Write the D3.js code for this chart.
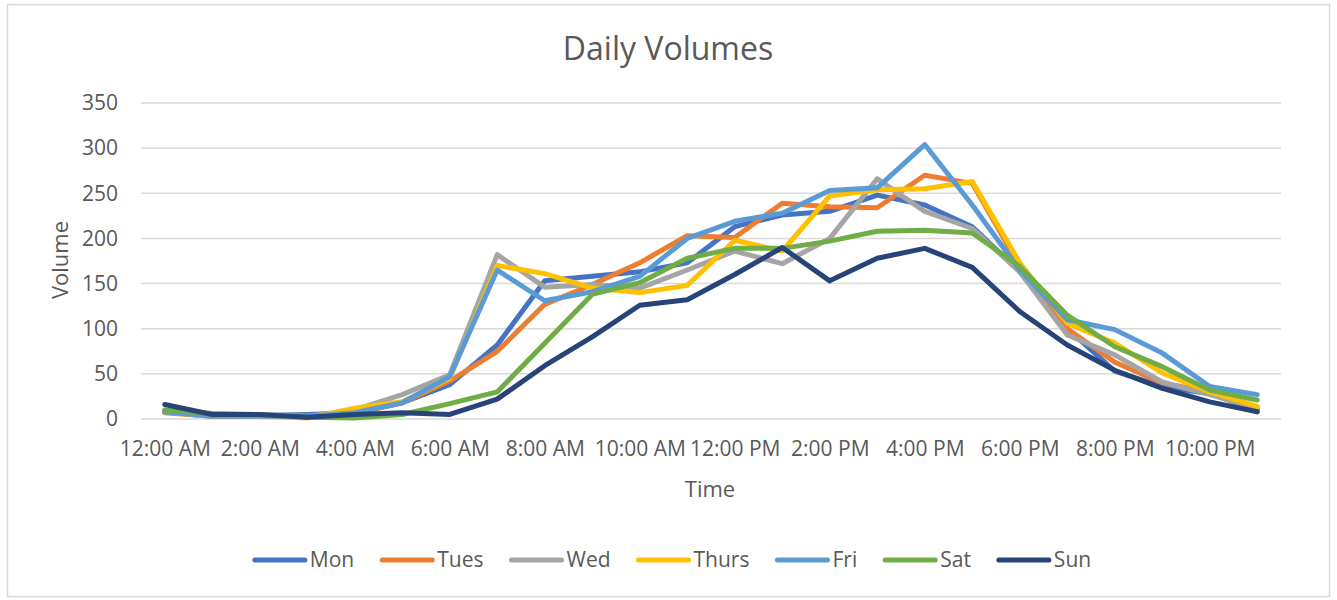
<!DOCTYPE html>
<html>
<head>
<meta charset="utf-8">
<script src="https://cdn.jsdelivr.net/npm/d3@7"></script>
<style>
  body { margin: 0; background: #fff; }
  text { font-family: "Open Sans", sans-serif; fill: #595959; }
</style>
</head>
<body>
<div id="chart"></div>
<script>
var hours = ["12:00 AM","1:00 AM","2:00 AM","3:00 AM","4:00 AM","5:00 AM","6:00 AM","7:00 AM",
             "8:00 AM","9:00 AM","10:00 AM","11:00 AM","12:00 PM","1:00 PM","2:00 PM","3:00 PM",
             "4:00 PM","5:00 PM","6:00 PM","7:00 PM","8:00 PM","9:00 PM","10:00 PM","11:00 PM"];

var days = ["Mon", "Tues", "Wed", "Thurs", "Fri", "Sat", "Sun"];

var mon   = [9, 3, 4, 5, 7, 18, 38, 82, 153, 158, 163, 173, 213, 226, 230, 248, 237, 213, 163, 100, 53, 36, 28, 10];
var tues  = [7, 3, 4, 3, 6, 18, 42, 75, 127, 149, 173, 203, 201, 239, 235, 234, 270, 261, 169, 100, 63, 40, 30, 8];
var wed   = [8, 3, 4, 3, 10, 27, 49, 182, 146, 149, 145, 165, 186, 172, 200, 266, 230, 211, 163, 93, 71, 41, 27, 12];
var thurs = [8, 3, 3, 1, 12, 19, 45, 170, 161, 145, 140, 148, 198, 186, 247, 254, 255, 263, 173, 106, 84, 51, 30, 14];
var fri   = [8, 3, 3, 3, 7, 18, 47, 165, 131, 141, 158, 200, 219, 228, 253, 256, 304, 237, 165, 110, 99, 73, 36, 27];
var sat   = [10, 6, 5, 2, 1, 5, 17, 30, 84, 138, 151, 178, 189, 189, 197, 208, 209, 206, 169, 115, 80, 58, 32, 21];
var sun   = [16, 5, 5, 2, 5, 7, 5, 22, 59, 91, 126, 132, 160, 190, 153, 178, 189, 168, 119, 82, 54, 34, 19, 8];

var yTicks = [0, 50, 100, 150, 200, 250, 300, 350];
var colors = ["#4472C4", "#ED7D31", "#A5A5A5", "#FFC000", "#5B9BD5", "#70AD47", "#264478"];

var series = [mon, tues, wed, thurs, fri, sat, sun].map(function(vals, i) {
  return { name: days[i], values: vals };
});

var width = 1337, height = 600;

var svg = d3.select("#chart").append("svg")
    .attr("width", width)
    .attr("height", height);

/* chart frame */
svg.append("rect")
    .attr("x", 7.5).attr("y", 4.5)
    .attr("width", 1322).attr("height", 592)
    .attr("fill", "#fff")
    .attr("stroke", "#d9d9d9")
    .attr("stroke-width", 1.5);

var x = d3.scalePoint().domain(hours).range([141, 1281]).padding(0.5);
var y = d3.scaleLinear().domain([0, 350]).range([419, 103]);

/* gridlines */
svg.append("g")
  .selectAll("line")
  .data(yTicks)
  .enter().append("line")
    .attr("x1", 141).attr("x2", 1281)
    .attr("y1", function(d) { return y(d); })
    .attr("y2", function(d) { return y(d); })
    .attr("stroke", "#d9d9d9")
    .attr("stroke-width", 1.5);

/* y axis labels */
var yAxis = d3.axisLeft(y).tickValues(yTicks).tickSize(0).tickPadding(0);
svg.append("g")
    .attr("transform", "translate(118,0)")
    .call(yAxis)
    .call(function(g) { g.select(".domain").remove(); })
    .selectAll("text")
      .style("font-size", "21px")
      .style("font-family", "'Open Sans', sans-serif")
      .attr("fill", "#595959");

/* x axis labels, every second hour */
var xAxis = d3.axisBottom(x)
    .tickValues(hours.filter(function(d, i) { return i % 2 === 0; }))
    .tickSize(0).tickPadding(0);
svg.append("g")
    .attr("transform", "translate(0,441)")
    .call(xAxis)
    .call(function(g) { g.select(".domain").remove(); })
    .selectAll("text")
      .attr("dy", "0.73em")
      .style("font-size", "21px")
      .style("font-family", "'Open Sans', sans-serif")
      .attr("fill", "#595959");

/* lines */
var line = d3.line()
    .x(function(d, i) { return x(hours[i]); })
    .y(function(d) { return y(d); });

svg.append("g")
  .selectAll("path")
  .data(series)
  .enter().append("path")
    .attr("d", function(d) { return line(d.values); })
    .attr("fill", "none")
    .attr("stroke", function(d, i) { return colors[i]; })
    .attr("stroke-width", 5)
    .attr("stroke-linejoin", "round")
    .attr("stroke-linecap", "round");

/* title and axis titles */
svg.append("text")
    .attr("x", 668).attr("y", 60)
    .attr("text-anchor", "middle")
    .style("font-size", "32px")
    .text("Daily Volumes");

svg.append("text")
    .attr("x", 710).attr("y", 497)
    .attr("text-anchor", "middle")
    .style("font-size", "22px")
    .text("Time");

svg.append("text")
    .attr("transform", "translate(68,260) rotate(-90)")
    .attr("text-anchor", "middle")
    .style("font-size", "22px")
    .text("Volume");

/* legend */
var legend = svg.append("g");
var lx = 0;
series.forEach(function(s, i) {
  var item = legend.append("g").attr("transform", "translate(" + lx + ",0)");
  item.append("line")
      .attr("x1", 2).attr("x2", 52)
      .attr("y1", 560).attr("y2", 560)
      .attr("stroke", colors[i])
      .attr("stroke-width", 5)
      .attr("stroke-linecap", "round");
  var t = item.append("text")
      .attr("x", 57).attr("y", 567)
      .style("font-size", "21px")
      .text(s.name);
  lx += 57 + t.node().getComputedTextLength() + 26;
});
var legendW = lx - 26;
legend.attr("transform", "translate(" + (672 - legendW / 2) + ",0)");
</script>
</body>
</html>
